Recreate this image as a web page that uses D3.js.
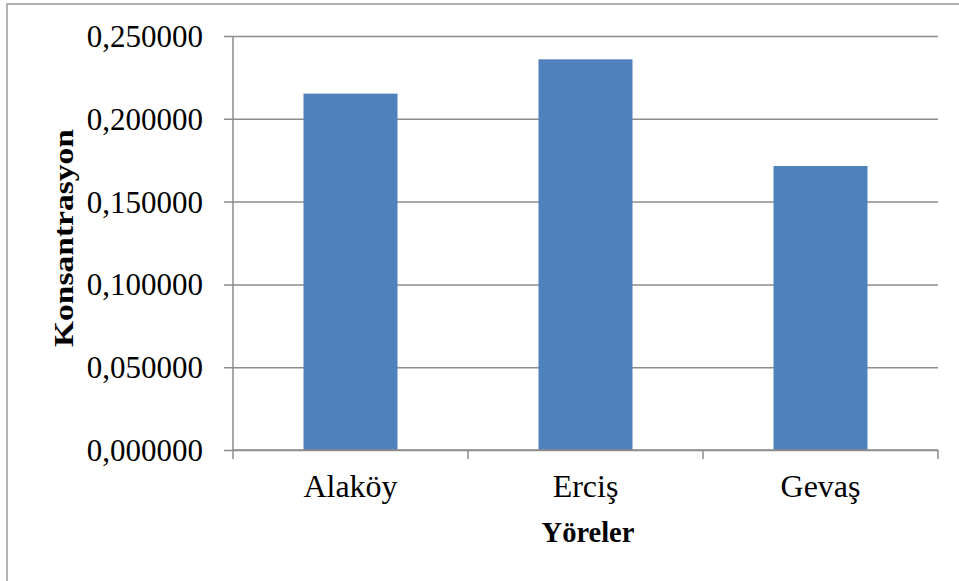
<!DOCTYPE html>
<html>
<head>
<meta charset="utf-8">
<script src="https://cdn.jsdelivr.net/npm/d3@7"></script>
<style>
  html, body { margin: 0; padding: 0; background: #fff; }
  svg { display: block; }
</style>
</head>
<body>
<svg id="chart" width="959" height="581"></svg>
<script>
// Konsantrasyon by region
const categories = ["Alaköy", "Erciş", "Gevaş"];
const values = [0.2152, 0.2359, 0.1715];
const yTicks = [0, 0.05, 0.10, 0.15, 0.20, 0.25];

const W = 959, H = 581;
const margin = { left: 233, right: 21, top: 36, bottom: 131 };
const svg = d3.select("#chart");
const serif = "'Liberation Serif', 'Times New Roman', serif";

// outer frame
svg.append("rect")
  .attr("x", 7).attr("y", 4)
  .attr("width", W + 10).attr("height", H + 10)
  .attr("fill", "none").attr("stroke", "#9a9a9a").attr("stroke-width", 1.5);

const x = d3.scaleBand()
  .domain(categories)
  .range([margin.left, W - margin.right])
  .paddingInner(0).paddingOuter(0);

const y = d3.scaleLinear()
  .domain([0, 0.25])
  .range([H - margin.bottom, margin.top]);

const fmt = v => d3.format(".6f")(v).replace(".", ",");
const grey = "#8c8c8c";

// horizontal gridlines with left ticks
const yAxis = d3.axisLeft(y)
  .tickValues(yTicks)
  .tickSize(-(W - margin.right - margin.left))
  .tickSizeOuter(0)
  .tickPadding(0)
  .tickFormat(fmt);

const gy = svg.append("g")
  .attr("transform", `translate(${margin.left},0)`)
  .call(yAxis);
gy.select(".domain").remove();
gy.selectAll(".tick line")
  .attr("x1", -9)
  .attr("stroke", grey).attr("stroke-width", 1.5);
gy.selectAll(".tick text")
  .attr("x", -30)
  .attr("dy", "0.34em")
  .attr("fill", "#000")
  .style("font-family", serif)
  .style("font-size", "31px");

// vertical value axis line
svg.append("line")
  .attr("x1", margin.left).attr("x2", margin.left)
  .attr("y1", y(0.25)).attr("y2", y(0))
  .attr("stroke", grey).attr("stroke-width", 1.5);

// bars
const barW = x.bandwidth() * 0.4;
svg.append("g").selectAll("rect")
  .data(categories.map((c, i) => ({ c, v: values[i] })))
  .join("rect")
  .attr("x", d => x(d.c) + (x.bandwidth() - barW) / 2)
  .attr("width", barW)
  .attr("y", d => y(d.v))
  .attr("height", d => y(0) - y(d.v))
  .attr("fill", "#4f81bd");

// category axis
const gx = svg.append("g")
  .attr("transform", `translate(0,${y(0)})`);
gx.append("line")
  .attr("x1", margin.left).attr("x2", W - margin.right)
  .attr("stroke", grey).attr("stroke-width", 1.5);
const edges = categories.map(c => x(c)).concat([x(categories[categories.length - 1]) + x.bandwidth()]);
gx.selectAll("line.tk")
  .data(edges)
  .join("line").attr("class", "tk")
  .attr("x1", d => d).attr("x2", d => d)
  .attr("y1", 0).attr("y2", 9)
  .attr("stroke", grey).attr("stroke-width", 1.5);
gx.selectAll("text")
  .data(categories)
  .join("text")
  .attr("x", d => x(d) + x.bandwidth() / 2)
  .attr("y", 47)
  .attr("text-anchor", "middle")
  .style("font-family", serif)
  .style("font-size", "32px")
  .text(d => d);

// axis titles
svg.append("text")
  .attr("x", 588).attr("y", 542)
  .attr("text-anchor", "middle")
  .style("font-family", serif)
  .style("font-size", "28.5px").style("font-weight", "bold")
  .text("Yöreler");

svg.append("text")
  .attr("transform", "translate(73,238) rotate(-90)")
  .attr("text-anchor", "middle")
  .attr("textLength", 218)
  .attr("lengthAdjust", "spacingAndGlyphs")
  .style("font-family", serif)
  .style("font-size", "28px").style("font-weight", "bold")
  .text("Konsantrasyon");
</script>
</body>
</html>
